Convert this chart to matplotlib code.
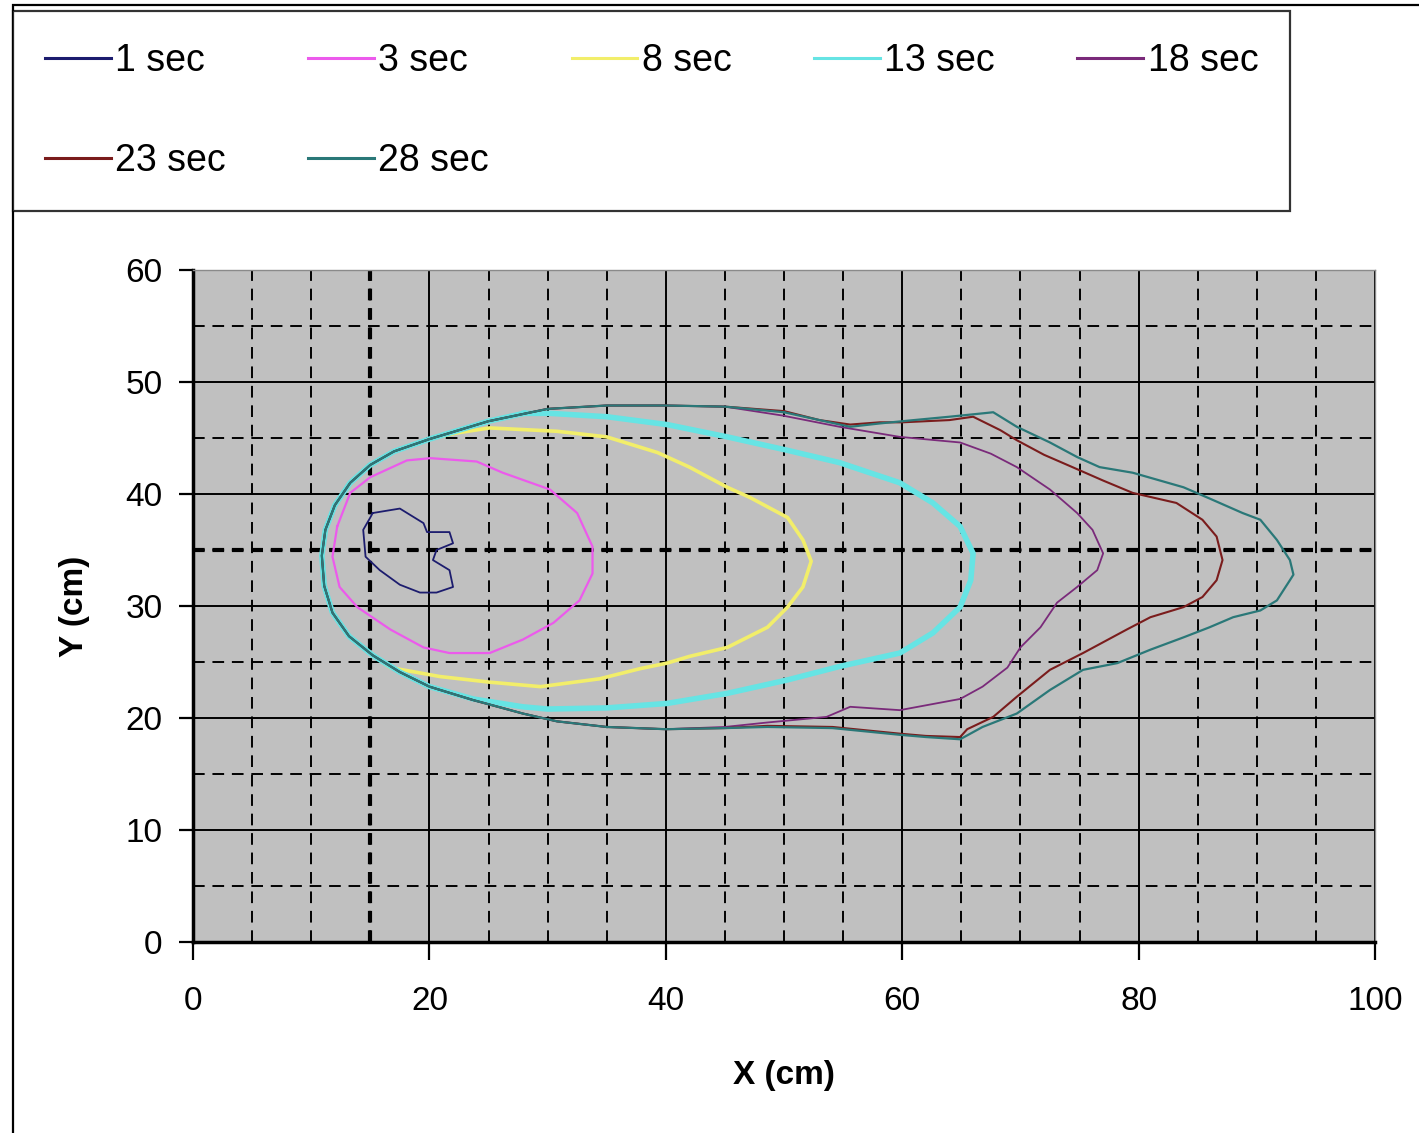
import matplotlib
matplotlib.use("Agg")
import matplotlib.pyplot as plt
from matplotlib.lines import Line2D
from matplotlib.patches import Rectangle

plt.rcParams['font.family'] = ['Liberation Sans', 'DejaVu Sans']

# contour data (x, y in cm)
t1_x = [15.2, 17.5, 19.5, 19.8, 21.7, 22.0, 20.6, 20.3, 21.7, 22.0, 20.6, 19.2, 17.5, 15.8, 14.6, 14.4, 15.0, 15.2]
t1_y = [38.3, 38.7, 37.4, 36.6, 36.6, 35.6, 35.0, 34.1, 33.2, 31.7, 31.2, 31.2, 31.9, 33.2, 34.4, 36.8, 37.9, 38.3]

t3_x = [12.2, 13.3, 15.0, 18.1, 20.1, 24.0, 26.2, 30.2, 32.5, 33.8, 33.8, 32.7, 30.5, 27.9, 25.1, 21.7, 19.5, 16.7, 13.9, 12.4, 11.8, 12.2]
t3_y = [37.1, 40.1, 41.5, 43.0, 43.2, 42.9, 41.9, 40.4, 38.3, 35.3, 32.9, 30.5, 28.5, 27.0, 25.8, 25.8, 26.3, 27.9, 29.9, 31.7, 34.4, 37.1]

t8_x = [22.0, 20.0, 17.0, 15.0, 13.3, 12.0, 11.2, 10.9, 11.1, 11.8, 13.2, 15.2, 16.7, 20.9, 25.1, 29.4, 34.4, 37.8,
        40.1, 42.0, 45.2, 48.6, 50.3, 51.6, 52.3, 51.6, 50.3, 47.1, 45.2, 42.0, 39.3, 35.0, 30.8, 25.1, 22.0]
t8_y = [45.4, 44.9, 43.8, 42.6, 41.0, 39.0, 36.8, 34.5, 31.8, 29.4, 27.3, 25.6, 24.5, 23.7, 23.2, 22.8, 23.5, 24.4,
        24.9, 25.5, 26.3, 28.1, 29.9, 31.7, 34.0, 35.9, 37.9, 39.7, 40.6, 42.4, 43.7, 45.1, 45.6, 45.9, 45.4]

t13_x = [28.0, 25.0, 20.0, 17.0, 15.0, 13.3, 12.0, 11.2, 10.9, 11.1, 11.8, 13.2, 15.2, 17.5, 20.0, 23.7, 27.9, 30.0,
         35.0, 40.1, 45.2, 50.3, 54.7, 59.8, 62.6, 64.9, 65.8, 66.0, 64.9, 62.6, 59.8, 54.7, 50.3, 45.2, 40.1, 35.0,
         30.2, 28.0]
t13_y = [47.2, 46.5, 44.9, 43.8, 42.6, 41.0, 39.0, 36.8, 34.5, 31.8, 29.4, 27.3, 25.6, 24.1, 22.8, 21.7, 21.0, 20.8,
         20.9, 21.3, 22.2, 23.4, 24.6, 25.8, 27.6, 29.9, 32.3, 34.7, 37.1, 39.2, 41.0, 42.8, 43.9, 45.1, 46.2, 46.9,
         47.2, 47.2]

t18_x = [45.0, 40.0, 35.0, 30.0, 25.0, 20.0, 17.0, 15.0, 13.3, 12.0, 11.2, 10.9, 11.1, 11.8, 13.2, 15.2, 17.5, 20.0,
         23.7, 27.9, 30.8, 35.0, 40.0, 45.0, 48.6, 53.6, 55.6, 59.8, 64.9, 66.8, 68.9, 70.0, 71.7, 73.1, 74.8, 76.5,
         77.0, 76.1, 74.8, 72.5, 69.7, 67.5, 64.9, 59.8, 54.7, 49.9, 45.0]
t18_y = [47.8, 47.9, 47.9, 47.6, 46.5, 44.9, 43.8, 42.6, 41.0, 39.0, 36.8, 34.5, 31.8, 29.4, 27.3, 25.6, 24.1, 22.8,
         21.6, 20.4, 19.7, 19.2, 19.0, 19.2, 19.6, 20.1, 21.0, 20.7, 21.7, 22.8, 24.5, 26.3, 28.1, 30.3, 31.7, 33.2,
         34.7, 36.8, 38.3, 40.4, 42.4, 43.6, 44.6, 45.1, 46.0, 47.0, 47.8]

t23_x = [50.0, 45.0, 40.0, 35.0, 30.0, 25.0, 20.0, 17.0, 15.0, 13.3, 12.0, 11.2, 10.9, 11.1, 11.8, 13.2, 15.2, 17.5,
         20.0, 23.7, 27.9, 30.8, 35.0, 40.0, 45.0, 48.6, 54.1, 59.8, 62.0, 64.9, 65.5, 67.7, 69.7, 72.5, 75.3, 79.0,
         81.0, 83.8, 85.4, 86.6, 87.1, 86.6, 85.4, 83.2, 79.5, 77.0, 74.4, 72.0, 69.7, 68.3, 66.0, 64.0, 60.0, 58.1,
         55.6, 53.0, 50.0]
t23_y = [47.4, 47.8, 47.9, 47.9, 47.6, 46.5, 44.9, 43.8, 42.6, 41.0, 39.0, 36.8, 34.5, 31.8, 29.4, 27.3, 25.6, 24.1,
         22.8, 21.6, 20.4, 19.7, 19.2, 19.0, 19.1, 19.3, 19.2, 18.6, 18.4, 18.3, 19.0, 20.1, 21.9, 24.3, 25.8, 27.9,
         29.0, 29.9, 30.8, 32.3, 34.1, 36.2, 37.7, 39.2, 40.1, 41.2, 42.4, 43.5, 44.8, 45.7, 46.9, 46.6, 46.4, 46.4,
         46.2, 46.6, 47.4]

t28_x = [50.0, 45.0, 40.0, 35.0, 30.0, 25.0, 20.0, 17.0, 15.0, 13.3, 12.0, 11.2, 10.9, 11.1, 11.8, 13.2, 15.2, 17.5,
         20.0, 23.7, 27.9, 30.8, 35.0, 40.0, 45.0, 48.6, 54.1, 59.8, 62.0, 64.9, 66.8, 69.7, 72.5, 75.3, 78.2, 81.0,
         83.8, 86.0, 88.0, 90.3, 91.7, 92.8, 93.1, 92.8, 91.7, 90.3, 88.8, 86.0, 83.8, 79.5, 76.7, 74.8, 72.5, 69.7,
         67.7, 66.8, 64.0, 61.0, 58.1, 55.6, 53.0, 50.0]
t28_y = [47.3, 47.8, 47.9, 47.9, 47.6, 46.5, 44.9, 43.8, 42.6, 41.0, 39.0, 36.8, 34.5, 31.8, 29.4, 27.3, 25.6, 24.1,
         22.8, 21.6, 20.4, 19.7, 19.2, 19.0, 19.1, 19.2, 19.1, 18.5, 18.3, 18.1, 19.2, 20.4, 22.5, 24.3, 24.9, 26.1,
         27.2, 28.1, 29.0, 29.6, 30.5, 32.3, 32.8, 34.1, 35.9, 37.7, 38.3, 39.6, 40.6, 41.9, 42.4, 43.3, 44.6, 46.0,
         47.3, 47.2, 46.9, 46.6, 46.3, 46.0, 46.6, 47.3]

labels = ['1 sec', '3 sec', '8 sec', '13 sec', '18 sec', '23 sec', '28 sec']
colors = ['#1c1c6e', '#ec5aec', '#f2ee6a', '#66e4e4', '#7a2a7a', '#7a1c1c', '#2a7878']
widths = [1.3, 1.6, 2.6, 4.0, 1.3, 1.5, 1.6]
curves = [(t1_x, t1_y), (t3_x, t3_y), (t8_x, t8_y), (t13_x, t13_y),
          (t18_x, t18_y), (t23_x, t23_y), (t28_x, t28_y)]

fig = plt.figure(figsize=(14.19, 11.33), dpi=100)
ax = fig.add_axes([193 / 1419, 191 / 1133, 1182 / 1419, 672 / 1133])
ax.set_facecolor('#c0c0c0')
ax.set_xlim(0, 100)
ax.set_ylim(0, 60)

ax.set_xticks(range(0, 101, 20))
ax.set_xticks(range(0, 101, 5), minor=True)
ax.set_yticks(range(0, 61, 10))
ax.set_yticks(range(0, 61, 5), minor=True)
ax.grid(which='major', color='black', lw=1.4, ls='-')
ax.grid(which='minor', color='black', lw=1.4, ls=(0, (6, 4)))
# heavier centre lines, dash period matched to the minor grid
ax.axvline(15, color='black', lw=3, ls=(0, (2.8, 1.8667)), zorder=1.6)
ax.axhline(35, color='black', lw=3, ls=(0, (2.8, 1.8667)), zorder=1.6)

for (x, y), c, w in zip(curves, colors, widths):
    ax.plot(x, y, color=c, lw=w, zorder=3)

for s in ['left', 'bottom']:
    ax.spines[s].set_linewidth(2.5)
    ax.spines[s].set_color('black')
for s in ['top', 'right']:
    ax.spines[s].set_linewidth(1)
    ax.spines[s].set_color('#8a8a8a')

ax.tick_params(which='minor', length=0)
ax.tick_params(axis='x', which='major', direction='out', length=13, width=1.6, pad=19, labelsize=24)
ax.tick_params(axis='y', which='major', direction='out', length=10, width=1.6, pad=12, labelsize=24)

ax.set_xlabel('X (cm)', fontsize=24, fontweight='bold', ha='center', va='center')
ax.xaxis.set_label_coords(0.5, -0.198)
ax.set_ylabel('Y (cm)', fontsize=24, fontweight='bold', ha='center', va='center')
ax.yaxis.set_label_coords(-0.1, 0.5)

# legend fills columns first, so order entries to read row by row
order = [0, 5, 1, 6, 2, 3, 4]
handles = [Line2D([], [], color=colors[i], lw=2.2) for i in order]
leg = fig.legend(handles, [labels[i] for i in order], ncol=5, loc='upper left', mode='expand',
                 bbox_to_anchor=(13 / 1419, 1 - 211 / 1133, 1277 / 1419, 200 / 1133),
                 fontsize=27, frameon=True, fancybox=False, edgecolor='black',
                 borderpad=0.85, labelspacing=1.72, handlelength=1.75, handletextpad=0.12,
                 borderaxespad=0)
leg.get_frame().set_linewidth(1.6)

fig.patches.append(Rectangle((13 / 1419, -0.1), 1.2, 1.1 - 5 / 1133, transform=fig.transFigure,
                             fill=False, edgecolor='black', lw=1.6))

fig.savefig('out.png', dpi=100)
